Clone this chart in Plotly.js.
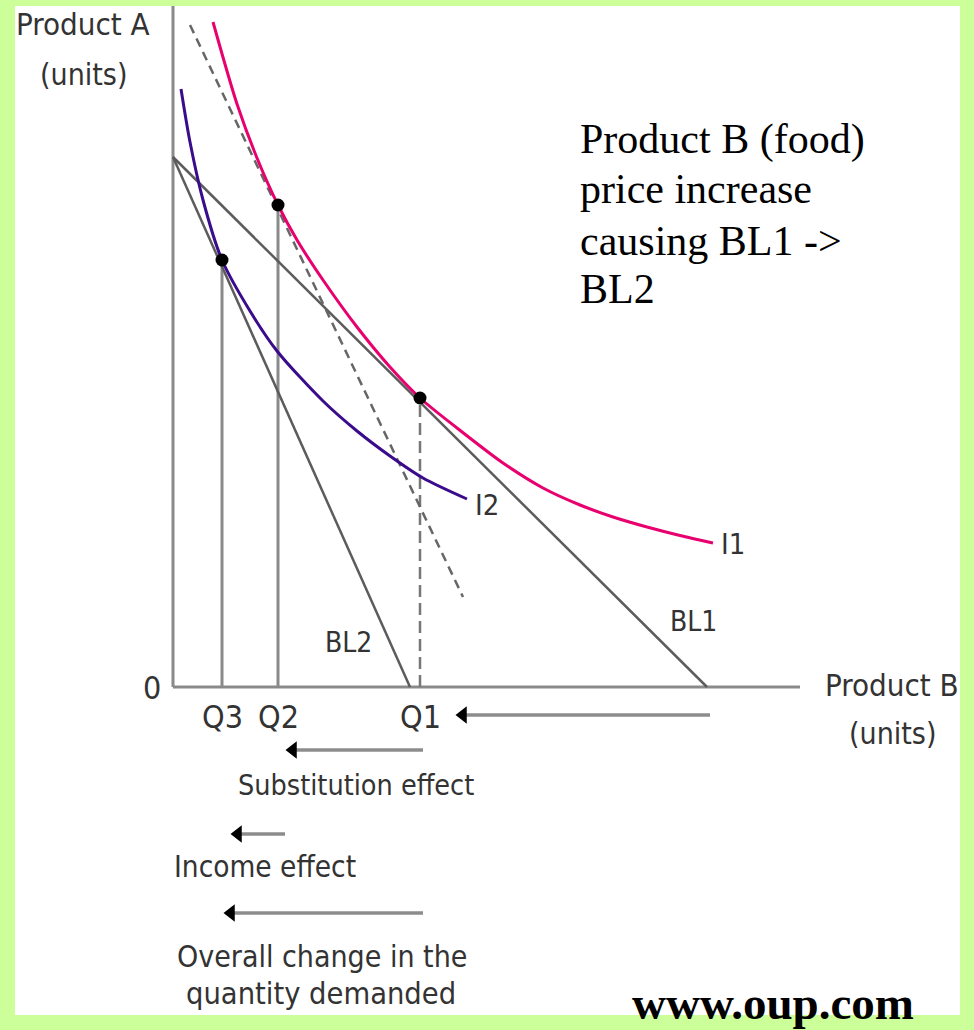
<!DOCTYPE html>
<html>
<head>
<meta charset="utf-8">
<script src="https://cdn.plot.ly/plotly-3.0.1.min.js"></script>
<style>html,body{margin:0;padding:0;background:#ccff99;}</style>
</head>
<body>
<div id="chart" style="width:974px;height:1030px;"></div>
<script>
// ---- data (chart units: Product B on x, Product A on y) ----
const bl1X = [0, 53.4];
const bl1Y = [53.0, 0];
const bl2X = [0, 23.7];
const bl2Y = [53.0, 0];
const compX = [1.7, 29.0];           // compensated (dashed) budget line
const compY = [66.2, 9.0];

const i1X = [4.0, 6.4, 8.4, 10.5, 12.4, 15.0, 18.4, 21.7, 24.7, 28.4, 33.0, 37.0, 40.7, 44.0, 47.4, 50.7, 54.0];
const i1Y = [66.5, 58.3, 52.9, 48.2, 44.7, 40.7, 36.0, 32.0, 28.9, 25.9, 22.4, 19.9, 18.2, 17.0, 16.0, 15.15, 14.4];
const i2X = [0.8, 1.7, 3.0, 4.9, 7.7, 10.4, 15.0, 18.4, 21.7, 25.0, 29.4];
const i2Y = [59.8, 54.5, 48.7, 42.7, 37.6, 33.6, 28.6, 25.6, 23.1, 20.9, 18.8];

const qLabels = ['Q3', 'Q2', 'Q1'];
const qX = [4.9, 10.5, 24.7];
const qY = [42.7, 48.2, 28.9];

const xAxisEnd = 62.7;
const yAxisTop = 68.1;

const arrowFrom = [53.7, 25.0, 11.2, 25.0];
const arrowTo   = [28.2, 11.2, 5.7, 5.0];
const arrowY    = [-2.8, -6.3, -14.7, -22.6];

const effectLabels = ['Substitution effect', 'Income effect', 'Overall change in the', 'quantity demanded'];
const effectX = [18.3, 9.2, 14.9, 14.8];
const effectY = [-9.8, -18.0, -26.9, -30.6];
const effectSize = [28.5, 29.5, 30, 30.5];

const noteLines = ['Product B (food)', 'price increase', 'causing BL1 ->', 'BL2'];
const noteY = [54.8, 49.8, 44.6, 39.8];

// ---- styles ----
const SANS = '"Liberation Sans Narrow", "DejaVu Sans Condensed", "Arial Narrow", sans-serif';
const SERIF = '"Liberation Serif", "Times New Roman", serif';
const txt = '#333333';
const axisGrey = '#8a8a8a';
const lineGrey = '#5c5c5c';

const traces = [];
function line(x, y, color, width, dash, shape) {
  traces.push({x: x, y: y, type: 'scatter', mode: 'lines', hoverinfo: 'skip',
    line: {color: color, width: width, dash: dash || 'solid', shape: shape || 'linear', smoothing: 0.8}});
}
// axes
line([0, 0], [0, yAxisTop], axisGrey, 3);
line([0, xAxisEnd], [0, 0], axisGrey, 3);
// verticals to Q3, Q2 (solid) and Q1 (dashed)
line([qX[0], qX[0]], [0, qY[0]], axisGrey, 3);
line([qX[1], qX[1]], [0, qY[1]], axisGrey, 3);
line([qX[2], qX[2]], [0, qY[2]], '#777777', 2.5, '12px,6px');
// budget lines
line(bl1X, bl1Y, lineGrey, 2.5);
line(bl2X, bl2Y, lineGrey, 2.5);
line(compX, compY, '#666666', 2.5, '9px,6px');
// indifference curves
line(i1X, i1Y, '#e8006e', 3, 'solid', 'spline');
line(i2X, i2Y, '#3a0c8c', 3, 'solid', 'spline');
// equilibrium points
traces.push({x: qX, y: qY, type: 'scatter', mode: 'markers', hoverinfo: 'skip',
  marker: {color: '#000000', size: 13, symbol: 'circle'}});
// arrows: grey shafts + black heads
for (let i = 0; i < arrowFrom.length; i++) {
  line([arrowFrom[i], arrowTo[i] + 0.8], [arrowY[i], arrowY[i]], '#8c8c8c', 3.5);
}
traces.push({x: arrowTo.map(v => v + 0.8), y: arrowY, type: 'scatter', mode: 'markers', hoverinfo: 'skip',
  marker: {color: '#000000', size: 15, symbol: 'triangle-left'}});

const ann = [];
function label(text, x, y, size, xanchor, font, color, bold) {
  ann.push({text: bold ? '<b>' + text + '</b>' : text, x: x, y: y, xref: 'x', yref: 'y', showarrow: false,
    xanchor: xanchor || 'center', yanchor: 'middle',
    font: {family: font || SANS, size: size, color: color || txt}});
}
label('Product A', -9.0, 66.3, 31);
label('(units)', -9.0, 61.3, 30);
label('0', -2.1, -0.1, 32);
label('Product B', 65.0, 0.2, 31, 'left');
label('(units)', 71.9, -4.6, 30);
for (let i = 0; i < qLabels.length; i++) label(qLabels[i], qX[i], -3.0, 32);
label('BL2', 17.5, 4.5, 28);
label('BL1', 52.0, 6.6, 28);
label('I2', 31.4, 18.2, 29);
label('I1', 56.0, 14.3, 29);
for (let i = 0; i < effectLabels.length; i++) label(effectLabels[i], effectX[i], effectY[i], effectSize[i]);
for (let i = 0; i < noteLines.length; i++) label(noteLines[i], 40.5, noteY[i], 42, 'left', SERIF, '#000000');
label('www.oup.com', 60.0, -31.6, 47, 'center', SERIF, '#000000', true);

const layout = {
  width: 974, height: 1030,
  margin: {l: 15, r: 14, t: 6, b: 15, pad: 0},
  paper_bgcolor: '#ccff99',
  plot_bgcolor: '#ffffff',
  showlegend: false,
  xaxis: {range: [-15.8, 78.7], visible: false, fixedrange: true},
  yaxis: {range: [-32.8, 68.1], visible: false, fixedrange: true},
  annotations: ann
};
Plotly.newPlot('chart', traces, layout, {displayModeBar: false, staticPlot: true});
</script>
</body>
</html>
